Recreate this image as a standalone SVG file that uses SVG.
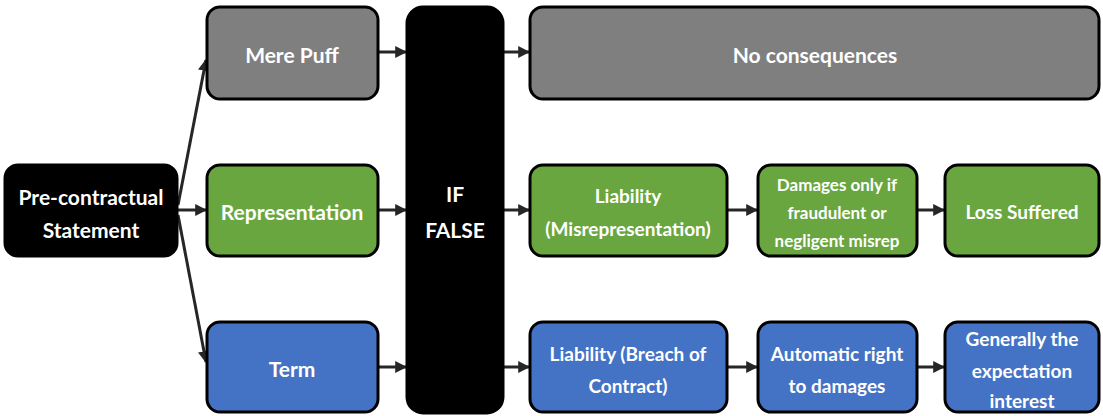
<svg xmlns="http://www.w3.org/2000/svg" width="1103" height="416" viewBox="0 0 1103 416">
<defs>
<marker id="ah" viewBox="0 0 10 10" refX="9" refY="5" markerWidth="4" markerHeight="4" orient="auto" markerUnits="strokeWidth">
<path d="M0,0 L10,5 L0,10 z" fill="#262626"/>
</marker>
<style>
.b{stroke:#000;stroke-width:3}
.k{fill:#000}
.g{fill:#7f7f7f}
.gr{fill:#6aa63f}
.bl{fill:#4472c4}
text{font-family:Lato,"Open Sans","Liberation Sans",sans-serif;font-weight:bold;fill:#fff;text-anchor:middle;dominant-baseline:central}
.t20{font-size:21px}
.t18{font-size:19px}
.t16{font-size:17px}
.c{stroke:#262626;stroke-width:3;fill:none;marker-end:url(#ah)}
</style>
</defs>
<rect width="1103" height="416" fill="#fff"/>
<g id="connectors">
<line class="c" x1="178" y1="205" x2="206" y2="60"/>
<line class="c" x1="178" y1="210" x2="206" y2="210"/>
<line class="c" x1="178" y1="215" x2="206" y2="362"/>
<line class="c" x1="379" y1="52" x2="406" y2="52"/>
<line class="c" x1="379" y1="210" x2="406" y2="210"/>
<line class="c" x1="379" y1="367" x2="406" y2="367"/>
<line class="c" x1="504" y1="52" x2="529" y2="52"/>
<line class="c" x1="504" y1="210" x2="529" y2="210"/>
<line class="c" x1="504" y1="367" x2="529" y2="367"/>
<line class="c" x1="728" y1="210" x2="757" y2="210"/>
<line class="c" x1="918" y1="210" x2="944" y2="210"/>
<line class="c" x1="728" y1="367" x2="757" y2="367"/>
<line class="c" x1="918" y1="367" x2="944" y2="367"/>
</g>
<g id="n-pre"><rect class="b k" x="5" y="165" width="172" height="91" rx="13"/><text class="t20" x="91" y="196">Pre-contractual</text><text class="t20" x="91" y="229">Statement</text></g>
<g id="n-puff"><rect class="b g" x="207" y="7" width="171" height="92" rx="13"/><text class="t20" x="292" y="54">Mere Puff</text></g>
<g id="n-rep"><rect class="b gr" x="207" y="165" width="171" height="91" rx="13"/><text class="t20" x="292" y="211">Representation</text></g>
<g id="n-term"><rect class="b bl" x="207" y="322" width="171" height="90" rx="13"/><text class="t20" x="292" y="368">Term</text></g>
<g id="n-if"><rect class="b k" x="407" y="7" width="96" height="406" rx="16"/><text class="t20" x="455" y="193">IF</text><text class="t20" x="455" y="229">FALSE</text></g>
<g id="n-nocon"><rect class="b g" x="530" y="7" width="569" height="92" rx="13"/><text class="t20" x="815" y="54">No consequences</text></g>
<g id="n-liab1"><rect class="b gr" x="530" y="165" width="197" height="91" rx="13"/><text class="t18" x="628" y="195">Liability</text><text class="t18" x="628" y="228">(Misrepresentation)</text></g>
<g id="n-dam"><rect class="b gr" x="758" y="165" width="159" height="91" rx="13"/><text class="t16" x="837" y="184">Damages only if</text><text class="t16" x="837" y="212">fraudulent or</text><text class="t16" x="837" y="240">negligent misrep</text></g>
<g id="n-loss"><rect class="b gr" x="945" y="165" width="154" height="91" rx="13"/><text class="t18" x="1022" y="211">Loss Suffered</text></g>
<g id="n-liab2"><rect class="b bl" x="530" y="322" width="197" height="90" rx="13"/><text class="t18" x="628" y="353">Liability (Breach of</text><text class="t18" x="628" y="385">Contract)</text></g>
<g id="n-auto"><rect class="b bl" x="758" y="322" width="159" height="90" rx="13"/><text class="t18" x="837" y="353">Automatic right</text><text class="t18" x="837" y="385">to damages</text></g>
<g id="n-gen"><rect class="b bl" x="945" y="322" width="154" height="90" rx="13"/><text class="t18" x="1022" y="338">Generally the</text><text class="t18" x="1022" y="370">expectation</text><text class="t18" x="1022" y="400">interest</text></g>
</svg>
